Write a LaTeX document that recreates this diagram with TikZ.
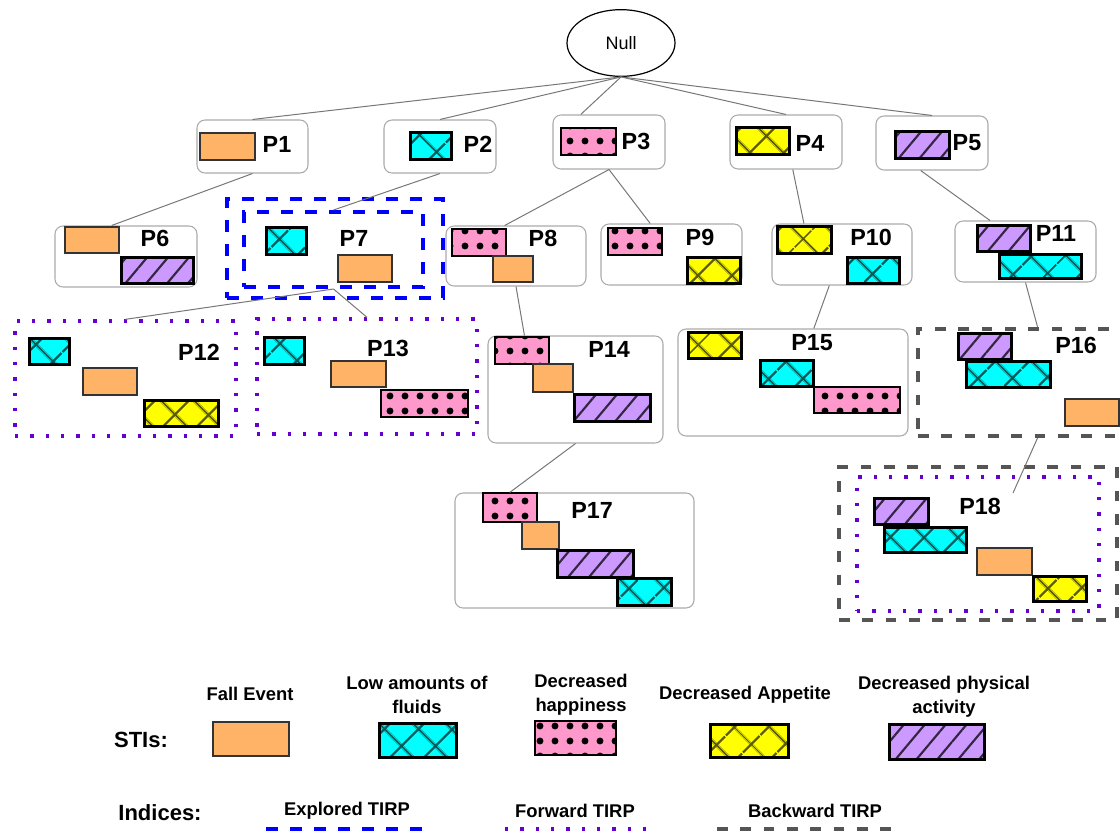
\documentclass[tikz,border=0pt]{standalone}
\usepackage{fontspec}
\setmainfont{Liberation Sans}
\usetikzlibrary{shapes.geometric,patterns.meta,fit,calc}

\definecolor{fallorange}{HTML}{FFB366}
\definecolor{fluidcyan}{HTML}{00FFFF}
\definecolor{happypink}{HTML}{FF99CC}
\definecolor{appyellow}{HTML}{FFFF00}
\definecolor{actpurple}{HTML}{CC99FF}
\colorlet{fluidhatch}{fluidcyan!35!black}
\colorlet{apphatch}{appyellow!35!black}
\colorlet{acthatch}{actpurple!25!black}
\definecolor{boxgray}{HTML}{AAAAAA}
\definecolor{linkgray}{HTML}{777777}
\definecolor{fwdviolet}{HTML}{6600CC}
\definecolor{bwdgray}{HTML}{555555}

\begin{document}
\begin{tikzpicture}[x=0.75pt, y=-0.75pt,
    tbox/.style={draw=boxgray, line width=0.8pt, rounded corners=6pt, inner sep=0pt},
    explored/.style={draw=blue, line width=3pt, dash pattern=on 9pt off 9pt, inner sep=0pt},
    forward/.style={draw=fwdviolet, line width=2.5pt, dash pattern=on 2.5pt off 9pt, inner sep=0pt},
    backward/.style={draw=bwdgray, line width=3pt, dash pattern=on 8pt off 9.5pt, inner sep=0pt},
    link/.style={draw=linkgray, line width=0.75pt},
    plabel/.style={font=\fontsize{17.5}{20}\selectfont\bfseries, inner sep=0pt},
    legtext/.style={font=\fontsize{13.8}{18}\selectfont\bfseries, align=center, inner sep=0pt},
    stifall/.style={draw=black!80, line width=0.9pt, fill=fallorange},
    stifluid/.style={draw=black, line width=2.25pt, preaction={fill=fluidcyan},
        pattern={Hatch[angle=45, distance=18.5pt, line width=1.8pt]}, pattern color=fluidhatch},
    stihappy/.style={draw=black, line width=1pt, preaction={fill=happypink},
        pattern={Dots[distance=11.25pt, radius=2.6pt]}, pattern color=black},
    stiapp/.style={draw=black, line width=2.25pt, preaction={fill=appyellow},
        pattern={Hatch[angle=45, distance=18.5pt, line width=1.8pt]}, pattern color=apphatch},
    stiact/.style={draw=black, line width=2.25pt, preaction={fill=actpurple},
        pattern={Lines[angle=50, distance=12pt, line width=1.6pt]}, pattern color=acthatch}]
\useasboundingbox (0,0) rectangle (1120,831);
\clip (0,0) rectangle (1120,831);
% Root
    \node[draw, ellipse, line width=0.9pt, minimum width=81pt, minimum height=50pt,
        font=\fontsize{13.5}{16}\selectfont] (null) at (621,43) {Null};
% Level one boxes
    \node[tbox, fit={(197,120) (308,173)}] (p1) {};
    \node[tbox, fit={(384,120) (496,173)}] (p2) {};
    \node[tbox, fit={(553,115) (665,169)}] (p3) {};
    \node[tbox, fit={(730,115) (842,169)}] (p4) {};
    \node[tbox, fit={(876,116) (988,170)}] (p5) {};
    \node[plabel] (p1l) at (277,144) {P1};
    \node[plabel] (p2l) at (478,144) {P2};
    \node[plabel] (p3l) at (636,141) {P3};
    \node[plabel] (p4l) at (810,143) {P4};
    \node[plabel] (p5l) at (967,143) {P5};
    \draw[stifall] (200,133) rectangle (255,160);
    \draw[stifluid] (410,133) rectangle (451,160);
    \draw[stihappy] (561,128) rectangle (616,155);
    \draw[stiapp] (736,128) rectangle (789,155);
    \draw[stiact] (895,132) rectangle (949,159);
% Level two boxes
    \node[tbox, fit={(55,226) (197,287)}] (p6) {};
    \node[explored, fit={(227,199) (443,298)}] (p7out) {};
    \node[explored, fit={(244,212) (423,287)}] (p7) {};
    \node[tbox, fit={(446,226) (586,286)}] (p8) {};
    \node[tbox, fit={(601,224) (742,285)}] (p9) {};
    \node[tbox, fit={(772,224) (912,285)}] (p10) {};
    \node[tbox, fit={(955,221) (1096,282)}] (p11) {};
    \node[plabel] (p6l) at (155,238) {P6};
    \node[plabel] (p7l) at (354,238) {P7};
    \node[plabel] (p8l) at (543,238) {P8};
    \node[plabel] (p9l) at (700,237) {P9};
    \node[plabel] (p10l) at (871,237) {P10};
    \node[plabel] (p11l) at (1056,233) {P11};
    \draw[stifall] (65,227) rectangle (119,253);
    \draw[stiact] (121,257) rectangle (193,283);
    \draw[stifluid] (266,227) rectangle (306,254);
    \draw[stifall] (338,255) rectangle (392,282);
    \draw[stihappy] (452,229) rectangle (506,256);
    \draw[stifall] (493,256) rectangle (533,282);
    \draw[stihappy] (608,228) rectangle (662,255);
    \draw[stiapp] (687,257) rectangle (740,283);
    \draw[stiapp] (777,226) rectangle (831,253);
    \draw[stifluid] (847,257) rectangle (899,283);
    \draw[stiact] (977,225) rectangle (1030,251);
    \draw[stifluid] (999,254) rectangle (1081,278);
% Level three boxes
    \node[forward, fit={(15,321) (236,436)}] (p12) {};
    \node[forward, fit={(257,319) (477,434)}] (p13) {};
    \node[tbox, fit={(488,336) (663,443)}] (p14) {};
    \node[tbox, fit={(678,329) (908,436)}] (p15) {};
    \node[backward, fit={(918,329) (1135,436)}] (p16) {};
    \node[plabel] (p12l) at (199,352) {P12};
    \node[plabel] (p13l) at (388,348) {P13};
    \node[plabel] (p14l) at (609,349) {P14};
    \node[plabel] (p15l) at (812,343) {P15};
    \node[plabel] (p16l) at (1076,345) {P16};
    \draw[stifluid] (29,338) rectangle (69,364);
    \draw[stifall] (83,368) rectangle (137,395);
    \draw[stiapp] (144,400) rectangle (218,426);
    \draw[stifluid] (264,337) rectangle (304,364);
    \draw[stifall] (331,361) rectangle (386,387);
    \draw[stihappy] (381,390) rectangle (468,417);
    \draw[stihappy] (495,337) rectangle (549,364);
    \draw[stifall] (533,364) rectangle (573,392);
    \draw[stiact] (574,394) rectangle (650,421);
    \draw[stiapp] (688,332) rectangle (741,358);
    \draw[stifluid] (760,360) rectangle (813,386);
    \draw[stihappy] (814,387) rectangle (900,413);
    \draw[stiact] (958,333) rectangle (1011,359);
    \draw[stifluid] (966,361) rectangle (1050,387);
    \draw[stifall] (1065,399) rectangle (1119,426);
% Level four boxes
    \node[tbox, fit={(455,493) (694,608)}] (p17) {};
    \node[backward, fit={(839,467) (1117,620)}] (p18out) {};
    \node[forward, fit={(857,477) (1099,611)}] (p18) {};
    \node[plabel] (p17l) at (592,510) {P17};
    \node[plabel] (p18l) at (980,506) {P18};
    \coordinate (p18end) at (1013,493);
    \draw[stihappy] (483,493) rectangle (537,522);
    \draw[stifall] (522,522) rectangle (559,549);
    \draw[stiact] (557,550) rectangle (633,577);
    \draw[stifluid] (617,578) rectangle (671,605);
    \draw[stiact] (874,498) rectangle (928,524);
    \draw[stifluid] (884,527) rectangle (966,552);
    \draw[stifall] (977,548) rectangle (1032,575);
    \draw[stiapp] (1033,576) rectangle (1086,601);
% Links
    \draw[link] (null.south) -- (p1.north);
    \draw[link] (null.south) -- (p2.north);
    \draw[link] (null.south) -- ($(p3.north west)!.25!(p3.north east)$);
    \draw[link] (null.south) -- (p4.north);
    \draw[link] (null.south) -- (p5.north);
    \draw[link] (p1.south) -- ($(p6.north west)!.4!(p6.north east)$);
    \draw[link] (p2.south) -- (p7.north);
    \draw[link] (p3.south) -- ($(p8.north west)!.42!(p8.north east)$);
    \draw[link] (p3.south) -- ($(p9.north west)!.35!(p9.north east)$);
    \draw[link] ($(p4.south west)!.56!(p4.south east)$) -- ($(p10.north west)!.23!(p10.north east)$);
    \draw[link] ($(p5.south west)!.4!(p5.south east)$) -- ($(p11.north west)!.25!(p11.north east)$);
    \draw[link] (p7.south) -- (p12.north);
    \draw[link] (p7.south) -- (p13.north);
    \draw[link] (p8.south) -- ($(p14.north west)!.21!(p14.north east)$);
    \draw[link] ($(p10.south west)!.41!(p10.south east)$) -- ($(p15.north west)!.59!(p15.north east)$);
    \draw[link] (p11.south) -- ($(p16.north west)!.55!(p16.north east)$);
    \draw[link] (p14.south) -- ($(p17.north west)!.23!(p17.north east)$);
    \draw[link] ($(p16.south west)!.55!(p16.south east)$) -- (p18end);
% Legend
    \node[legtext, font=\fontsize{16.5}{20}\selectfont\bfseries] (stis) at (141,740) {STIs:};
    \node[legtext] (fallt) at (250,694) {Fall Event};
    \node[legtext] (fluidt) at (417,695) {Low amounts of\\fluids};
    \node[legtext] (happyt) at (581,695) {Decreased\\happiness};
    \node[legtext] (appt) at (745,695) {Decreased Appetite};
    \node[legtext] (actt) at (944,697) {Decreased physical\\activity};
    \draw[stifall] (213,722) rectangle (289,756);
    \draw[stifluid] (379,723) rectangle (456,757);
    \draw[stihappy] (535,721) rectangle (616,755);
    \draw[stiapp] (710,724) rectangle (788,757);
    \draw[stiact] (889,724) rectangle (984,759);
    \node[legtext, font=\fontsize{16.5}{20}\selectfont\bfseries] (indices) at (160,813) {Indices:};
    \node[legtext] (expt) at (347,811) {Explored TIRP};
    \node[legtext] (fwdt) at (575,811) {Forward TIRP};
    \node[legtext] (bwdt) at (815,811) {Backward TIRP};
    \draw[explored] (266,829) -- (427,829);
    \draw[forward] (505,829) -- (654,829);
    \draw[backward] (717,829) -- (901,829);
\end{tikzpicture}
\end{document}
